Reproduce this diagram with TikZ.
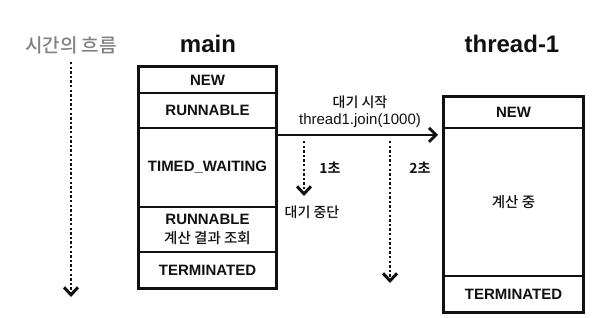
\documentclass[tikz,border=0pt]{standalone}
\usepackage{fontspec}
\setmainfont{Liberation Sans}
\newfontfamily\kr{Noto Sans CJK KR Medium}[BoldFont={Noto Sans CJK KR Bold}]
\usetikzlibrary{arrows.meta,calc}
\definecolor{Ink}{HTML}{111111}
\definecolor{Muted}{HTML}{808080}

\begin{document}
\begin{tikzpicture}[x=1pt,y=-1pt,every node/.style={text=Ink,inner sep=0pt},
  cell/.style={draw=Ink,line width=2.2pt,align=center,font=\fontsize{15}{18}\selectfont\bfseries},
  mcell/.style={cell,minimum width=137pt},
  tcell/.style={cell,minimum width=139pt},
  title/.style={font=\fontsize{24}{27}\selectfont\bfseries},
  note/.style={font=\kr\fontsize{14}{17}\selectfont},
  flow/.style={draw=Ink,line width=2.4pt,dash pattern=on 2.4pt off 2.2pt,-{Straight Barb[length=7.5pt,width=14pt,line width=3pt]}}]
\useasboundingbox (0,0) rectangle (605,318);
% time axis
\node[font=\kr\fontsize{19}{22}\selectfont,text=Muted] (flowlbl) at (71,45) {시간의 흐름};
\coordinate (tstart) at (71,62); \coordinate (tend) at (71,297);
\draw[flow] (tstart) -- (tend);
% main
\node[title] (main) at (208,44) {main};
\node[mcell,minimum height=26pt] (mnew) at (207.5,80) {NEW};
\node[mcell,minimum height=35pt] (mrun) at (207.5,110.5) {RUNNABLE};
\node[mcell,minimum height=79pt] (mwait) at (207.5,167.5) {TIMED\_WAITING};
\node[mcell,minimum height=45pt] (mres) at (207.5,229.5) {RUNNABLE\\[1pt]{\kr\mdseries\fontsize{14.5}{16}\selectfont 계산 결과 조회}};
\node[mcell,minimum height=36pt] (mend) at (207.5,270) {TERMINATED};
\draw[Ink,line width=2.6pt] (mnew.north west) rectangle (mend.south east);
% thread-1
\node[title] (thr) at (512,44) {thread-1};
\node[tcell,minimum height=31pt] (tnew) at (513.5,112.5) {NEW};
\node[tcell,minimum height=148pt,font=\kr\fontsize{14.5}{17}\selectfont] (tcalc) at (513.5,202) {계산 중};
\node[tcell,minimum height=36pt] (tend1) at (513.5,294) {TERMINATED};
\draw[Ink,line width=2.6pt] (tnew.north west) rectangle (tend1.south east);
% join
\draw[Ink,line width=2.4pt,-{Straight Barb[length=7pt,width=14pt,line width=2.8pt]}] ($(mwait.north east)+(0,8)$) -- ($(tcalc.north west)+(-5,8)$);
\node[note,align=center] (joinlbl) at (360,112) {대기 시작\\{\rmfamily\fontsize{15}{18}\selectfont thread1.join(1000)}};
\coordinate (w1a) at (304,141); \coordinate (w1b) at (304,196);
\coordinate (w2a) at (390,141); \coordinate (w2b) at (390,283);
\draw[flow] (w1a) -- (w1b);
\draw[flow] (w2a) -- (w2b);
\node[note,font=\kr\bfseries\fontsize{14}{17}\selectfont] (sec1) at (330,168) {1초};
\node[note,font=\kr\bfseries\fontsize{14}{17}\selectfont] (sec2) at (420,168) {2초};
\node[note] (stop) at (312,212) {대기 중단};
\end{tikzpicture}
\end{document}
